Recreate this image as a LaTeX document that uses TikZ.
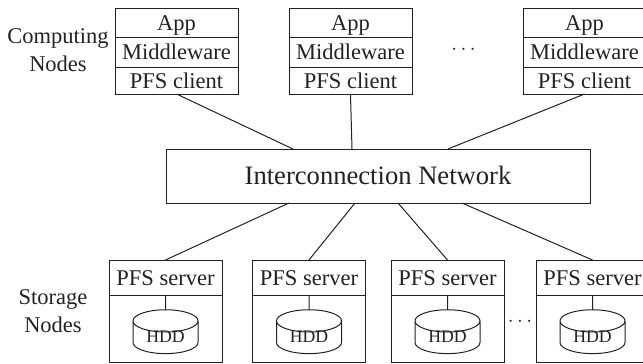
\documentclass[tikz,border=0pt]{standalone}
\usepackage{fontspec}
\setmainfont{Liberation Serif}
\usetikzlibrary{shapes.geometric}
\definecolor{inkgray}{HTML}{222222}
\begin{document}
\begin{tikzpicture}[
  block/.style={rectangle, draw=inkgray, line width=1pt, text=inkgray, outer sep=0pt, inner sep=0pt, minimum width=123pt, text height=15pt, text depth=0pt, font=\fontsize{22.5}{27}\selectfont},
  server/.style={block, minimum width=113pt},
  disk/.style={cylinder, shape border rotate=90, draw=inkgray, line width=1pt, text=inkgray, outer sep=0pt, inner sep=0pt, aspect=0.58, minimum width=65pt, minimum height=20pt, text height=10pt, text depth=-1pt, font=\fontsize{17.7}{20}\selectfont},
  side/.style={align=center, text=inkgray, inner sep=0pt, font=\fontsize{22.5}{27.5}\selectfont},
  link/.style={draw=inkgray, line width=1pt},
  gap/.style={text=inkgray, inner sep=0pt, font=\fontsize{22.5}{27}\selectfont}
]
\useasboundingbox (0pt,0pt) rectangle (643pt,-364pt);

% computing nodes
\node[block, minimum height=29.5pt] (app1) at (176.5pt,-22.75pt) {App};
\node[block, minimum height=29.5pt, below of=app1, node distance=29.5pt] (mid1) {Middleware};
\node[block, minimum height=27pt, below of=mid1, node distance=28.25pt] (client1) {PFS client};

\node[block, minimum height=29.5pt, right of=app1, node distance=174pt] (app2) {App};
\node[block, minimum height=29.5pt, below of=app2, node distance=29.5pt] (mid2) {Middleware};
\node[block, minimum height=27pt, below of=mid2, node distance=28.25pt] (client2) {PFS client};

\node[block, minimum height=29.5pt, right of=app2, node distance=234pt] (app3) {App};
\node[block, minimum height=29.5pt, below of=app3, node distance=29.5pt] (mid3) {Middleware};
\node[block, minimum height=27pt, below of=mid3, node distance=28.25pt] (client3) {PFS client};

\node[gap] (dots1) at (463.5pt,-50pt) {$\cdots$};
\node[side] (computing) at (58pt,-50pt) {Computing\\Nodes};

% network
\node[block, minimum width=424pt, minimum height=54pt, text height=17pt, font=\fontsize{26.6}{32}\selectfont] (net) at (378pt,-176pt) {Interconnection Network};

% storage nodes
\node[server, minimum height=35pt] (srv1) at (165.5pt,-277.5pt) {PFS server};
\node[server, minimum height=67pt, below of=srv1, node distance=51pt] (bay1) {};
\node[disk] (hdd1) at (165.5pt,-337.5pt) {HDD};

\node[server, minimum height=35pt, right of=srv1, node distance=143.5pt] (srv2) {PFS server};
\node[server, minimum height=67pt, below of=srv2, node distance=51pt] (bay2) {};
\node[disk, right of=hdd1, node distance=143.5pt] (hdd2) {HDD};

\node[server, minimum height=35pt, right of=srv2, node distance=138.5pt] (srv3) {PFS server};
\node[server, minimum height=67pt, below of=srv3, node distance=51pt] (bay3) {};
\node[disk, right of=hdd2, node distance=138.5pt] (hdd3) {HDD};

\node[server, minimum height=35pt, right of=srv3, node distance=145pt] (srv4) {PFS server};
\node[server, minimum height=67pt, below of=srv4, node distance=51pt] (bay4) {};
\node[disk, right of=hdd3, node distance=145pt] (hdd4) {HDD};

\node[gap] (dots2) at (520pt,-322pt) {$\cdots$};
\node[side] (storage) at (53pt,-311pt) {Storage\\Nodes};

\draw[link] (client1.south) -- ([xshift=-85pt]net.north);
\draw[link] (client2.south) -- ([xshift=-26pt]net.north);
\draw[link] (client3.south) -- ([xshift=70pt]net.north);

\draw[link] (srv1.north) -- ([xshift=-89pt]net.south);
\draw[link] (srv2.north) -- ([xshift=-23pt]net.south);
\draw[link] (srv3.north) -- ([xshift=20pt]net.south);
\draw[link] (srv4.north) -- ([xshift=84pt]net.south);

\draw[link] (srv1.south) -- (hdd1.north);
\draw[link] (srv2.south) -- (hdd2.north);
\draw[link] (srv3.south) -- (hdd3.north);
\draw[link] (srv4.south) -- (hdd4.north);
\end{tikzpicture}
\end{document}
